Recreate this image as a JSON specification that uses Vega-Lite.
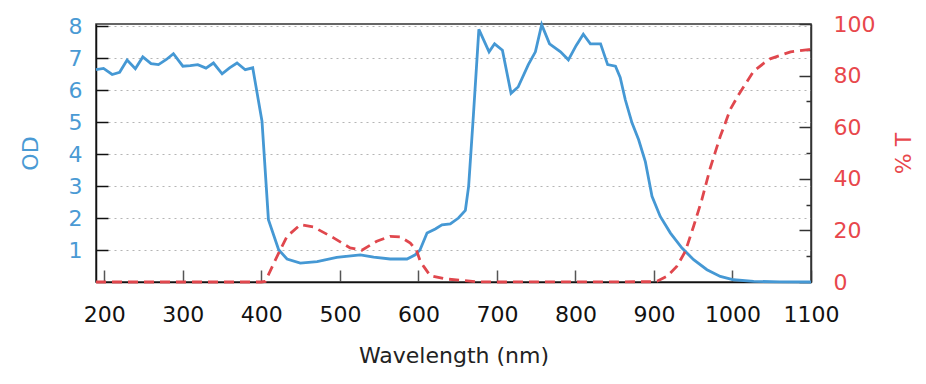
{
  "$schema": "https://vega.github.io/schema/vega-lite/v6.json",
  "width": 715,
  "height": 258,
  "autosize": {"type": "none"},
  "padding": {"left": 96, "top": 24, "right": 115, "bottom": 102},
  "config": {
    "font": "DejaVu Sans",
    "view": {"stroke": "#333", "strokeWidth": 1.5},
    "axis": {"labelFont": "DejaVu Sans", "titleFont": "DejaVu Sans", "titleFontWeight": "normal"}
  },
  "datasets": {
    "od": [
      {"nm": 189.4, "OD": 6.64}, {"nm": 199, "OD": 6.68}, {"nm": 210, "OD": 6.49}, {"nm": 219.5, "OD": 6.56},
      {"nm": 229, "OD": 6.94}, {"nm": 239.5, "OD": 6.67}, {"nm": 249, "OD": 7.04}, {"nm": 259.5, "OD": 6.83},
      {"nm": 269, "OD": 6.8}, {"nm": 279, "OD": 6.96}, {"nm": 288, "OD": 7.14}, {"nm": 300, "OD": 6.75},
      {"nm": 309.5, "OD": 6.77}, {"nm": 319, "OD": 6.8}, {"nm": 329.5, "OD": 6.69}, {"nm": 339, "OD": 6.85},
      {"nm": 350, "OD": 6.51}, {"nm": 359.5, "OD": 6.7}, {"nm": 369, "OD": 6.85}, {"nm": 379.5, "OD": 6.64},
      {"nm": 389, "OD": 6.7}, {"nm": 400.8, "OD": 5.03}, {"nm": 409, "OD": 1.95}, {"nm": 422, "OD": 1.01},
      {"nm": 432.7, "OD": 0.72}, {"nm": 449.6, "OD": 0.59}, {"nm": 471, "OD": 0.64}, {"nm": 496, "OD": 0.77},
      {"nm": 526, "OD": 0.85}, {"nm": 543, "OD": 0.78}, {"nm": 564, "OD": 0.72}, {"nm": 585.5, "OD": 0.72},
      {"nm": 596, "OD": 0.85}, {"nm": 602, "OD": 1.0}, {"nm": 611, "OD": 1.53}, {"nm": 621.5, "OD": 1.66},
      {"nm": 630, "OD": 1.79}, {"nm": 640.6, "OD": 1.82}, {"nm": 651, "OD": 2.0}, {"nm": 659.8, "OD": 2.24},
      {"nm": 664, "OD": 3.0}, {"nm": 670, "OD": 5.2}, {"nm": 677, "OD": 7.9}, {"nm": 690, "OD": 7.2},
      {"nm": 697, "OD": 7.45}, {"nm": 707, "OD": 7.25}, {"nm": 718, "OD": 5.9}, {"nm": 727, "OD": 6.1},
      {"nm": 740, "OD": 6.8}, {"nm": 749, "OD": 7.2}, {"nm": 757, "OD": 8.05}, {"nm": 767, "OD": 7.45},
      {"nm": 781, "OD": 7.2}, {"nm": 791, "OD": 6.95}, {"nm": 801, "OD": 7.4}, {"nm": 810, "OD": 7.75},
      {"nm": 819, "OD": 7.45}, {"nm": 832, "OD": 7.45}, {"nm": 841, "OD": 6.8}, {"nm": 851, "OD": 6.75},
      {"nm": 857, "OD": 6.4}, {"nm": 863.5, "OD": 5.7}, {"nm": 872, "OD": 4.98}, {"nm": 880.5, "OD": 4.45},
      {"nm": 889, "OD": 3.77}, {"nm": 897.5, "OD": 2.68}, {"nm": 908, "OD": 2.05}, {"nm": 921, "OD": 1.53},
      {"nm": 935.7, "OD": 1.06}, {"nm": 950.5, "OD": 0.7}, {"nm": 967.5, "OD": 0.385}, {"nm": 984.5, "OD": 0.175},
      {"nm": 1001.5, "OD": 0.07}, {"nm": 1027, "OD": 0.02}, {"nm": 1060, "OD": 0.005}, {"nm": 1100, "OD": 0.0}
    ],
    "t": [
      {"nm": 189.4, "T": 0}, {"nm": 400, "T": 0}, {"nm": 405, "T": 0.2}, {"nm": 422, "T": 11.2},
      {"nm": 432.7, "T": 17.7}, {"nm": 449.6, "T": 22.2}, {"nm": 466.6, "T": 21.3}, {"nm": 492, "T": 17.1},
      {"nm": 513, "T": 13.2}, {"nm": 528, "T": 12.3}, {"nm": 547, "T": 15.8}, {"nm": 564, "T": 17.7},
      {"nm": 577, "T": 17.5}, {"nm": 589.7, "T": 15.1}, {"nm": 598, "T": 11.9}, {"nm": 602.4, "T": 8.0},
      {"nm": 606.7, "T": 6.05}, {"nm": 615, "T": 2.5}, {"nm": 634, "T": 1.2}, {"nm": 657.6, "T": 0.6},
      {"nm": 675, "T": 0.1}, {"nm": 700, "T": 0}, {"nm": 899.5, "T": 0.1}, {"nm": 904, "T": 0.3},
      {"nm": 916.6, "T": 2.2}, {"nm": 929, "T": 6.0}, {"nm": 940, "T": 11.9}, {"nm": 950.5, "T": 21.6},
      {"nm": 961, "T": 31.9}, {"nm": 971.7, "T": 44.2}, {"nm": 984.5, "T": 56.5}, {"nm": 991, "T": 61.7},
      {"nm": 997, "T": 66.8}, {"nm": 1008, "T": 72.7}, {"nm": 1027, "T": 81.7}, {"nm": 1040, "T": 84.8},
      {"nm": 1048, "T": 86.5}, {"nm": 1074, "T": 89.2}, {"nm": 1097, "T": 90.1}, {"nm": 1100, "T": 90.2}
    ]
  },
  "encoding": {
    "x": {
      "field": "nm", "type": "quantitative",
      "scale": {"domain": [189.4, 1100], "nice": false, "zero": false},
      "axis": {
        "title": "Wavelength (nm)", "values": [200, 300, 400, 500, 600, 700, 800, 900, 1000, 1100],
        "format": "d", "labelOverlap": false, "labelFlush": false,
        "grid": false, "tickSize": -12, "tickColor": "#555", "tickWidth": 1.5,
        "domainColor": "#111", "domainWidth": 1.5,
        "labelFontSize": 22, "labelColor": "#111", "labelPadding": 34,
        "titleFontSize": 22, "titleColor": "#222", "titleY": 73, "titleBaseline": "middle"
      }
    }
  },
  "layer": [
    {
      "data": {"name": "od"},
      "mark": {"type": "line", "color": "#4598d4", "strokeWidth": 2.8},
      "encoding": {
        "y": {
          "field": "OD", "type": "quantitative",
          "scale": {"domain": [0, 8.07], "nice": false},
          "axis": {
            "orient": "left", "title": "OD", "values": [1, 2, 3, 4, 5, 6, 7, 8],
            "grid": true, "gridDash": [2, 4], "gridColor": "#b5b5b5", "gridWidth": 1,
            "tickSize": -12, "tickColor": "#111", "tickWidth": 1.5,
            "domainColor": "#111", "domainWidth": 1.5,
            "labelFontSize": 22, "labelColor": "#4a9ad4", "labelPadding": 26,
            "titleFontSize": 22, "titleColor": "#4a9ad4", "titleX": -66, "titleY": 129,
            "titleAngle": -90, "titleBaseline": "middle", "titleAlign": "center"
          }
        }
      }
    },
    {
      "data": {"name": "t"},
      "mark": {"type": "line", "color": "#e0474d", "strokeWidth": 2.8, "strokeDash": [10, 6]},
      "encoding": {
        "y": {
          "field": "T", "type": "quantitative",
          "scale": {"domain": [0, 100], "nice": false},
          "axis": {
            "orient": "right", "title": "% T", "values": [0, 10, 20, 30, 40, 50, 60, 70, 80, 90, 100],
            "labelExpr": "datum.value % 20 === 0 ? datum.label : ''",
            "labelOverlap": false,
            "grid": false,
            "tickSize": {"condition": {"test": "datum.value % 20 === 0", "value": -12}, "value": -5},
            "tickColor": "#333", "tickWidth": 1.5,
            "domainColor": "#333", "domainWidth": 1.5,
            "labelFontSize": 22, "labelColor": "#e8474c", "labelPadding": 34,
            "titleFontSize": 22, "titleColor": "#e8474c", "titleX": 92, "titleY": 129,
            "titleAngle": -90, "titleBaseline": "middle", "titleAlign": "center"
          }
        }
      }
    }
  ],
  "resolve": {"scale": {"y": "independent"}}
}
